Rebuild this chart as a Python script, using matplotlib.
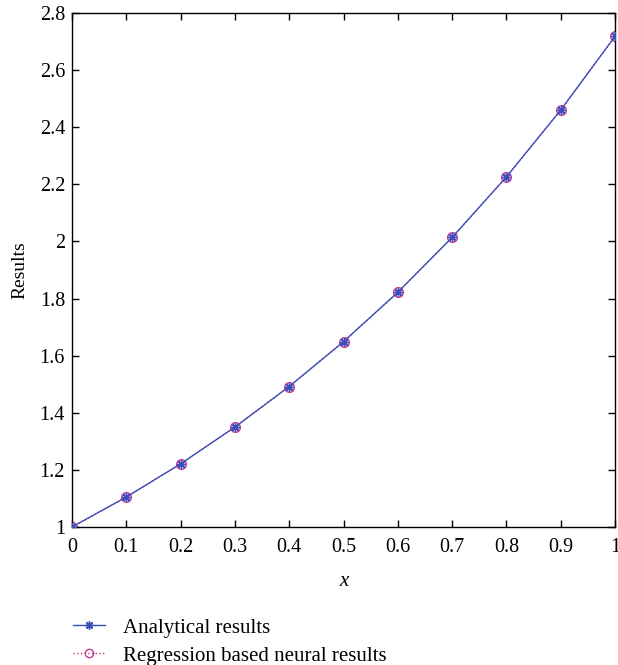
import matplotlib
matplotlib.use("Agg")
import matplotlib.pyplot as plt
from matplotlib.lines import Line2D

x = [0, 0.1, 0.2, 0.3, 0.4, 0.5, 0.6, 0.7, 0.8, 0.9, 1.0]
analytical = [1.0, 1.105, 1.221, 1.350, 1.492, 1.649, 1.822, 2.014, 2.226, 2.460, 2.718]
neural = [1.0, 1.105, 1.221, 1.350, 1.492, 1.649, 1.822, 2.014, 2.226, 2.460, 2.718]
xticks = [0, 0.1, 0.2, 0.3, 0.4, 0.5, 0.6, 0.7, 0.8, 0.9, 1]
xticklabels = ["0", "0.1", "0.2", "0.3", "0.4", "0.5", "0.6", "0.7", "0.8", "0.9", "1"]
yticks = [1, 1.2, 1.4, 1.6, 1.8, 2, 2.2, 2.4, 2.6, 2.8]
yticklabels = ["1", "1.2", "1.4", "1.6", "1.8", "2", "2.2", "2.4", "2.6", "2.8"]

plt.rcParams['font.family'] = ['Liberation Serif', 'DejaVu Serif']
blue = '#3a4fb8'
mag = '#c23a9a'
ast = (8, 2, 0)

fig = plt.figure(figsize=(6.18, 6.65), dpi=100)
ax = fig.add_axes([72/618, 138/665, 543/618, 514/665])

ax.plot(x, neural, linestyle=':', color=mag, marker='o', markersize=7,
        markerfacecolor='none', markeredgecolor=mag, markeredgewidth=1.0, linewidth=1.0, zorder=2)
ax.plot(x, analytical, linestyle='-', color=blue, marker=ast, markersize=6,
        markeredgewidth=1.0, linewidth=1.0, zorder=3)

ax.set_xlim(0, 1)
ax.set_ylim(1, 2.8)
ax.set_xticks(xticks)
ax.set_xticklabels(xticklabels)
ax.set_yticks(yticks)
ax.set_yticklabels(yticklabels)
ax.tick_params(direction='in', top=True, right=True, labelsize=14.5, length=5, width=1, pad=5)
ax.tick_params(axis='x', pad=8)
for s in ax.spines.values():
    s.set_linewidth(1.0)
ax.set_xlabel('x', fontsize=15, fontstyle='italic', labelpad=11)
ax.set_ylabel('Results', fontsize=14, labelpad=8)

handles = [
    Line2D([], [], color=blue, linestyle='-', marker=ast, markersize=6, markeredgewidth=1.0, linewidth=1.0),
    Line2D([], [], color=mag, linestyle=':', marker='o', markersize=6,
           markerfacecolor='none', markeredgecolor=mag, linewidth=1.0),
]
fig.legend(handles, ['Analytical results', 'Regression based neural results'],
           loc='upper left', bbox_to_anchor=(73/618, 1 - 618/665), frameon=False,
           borderpad=0, borderaxespad=0,
           fontsize=15, handlelength=1.55, handletextpad=0.85, labelspacing=0.4)

fig.savefig('out.png', dpi=100)
